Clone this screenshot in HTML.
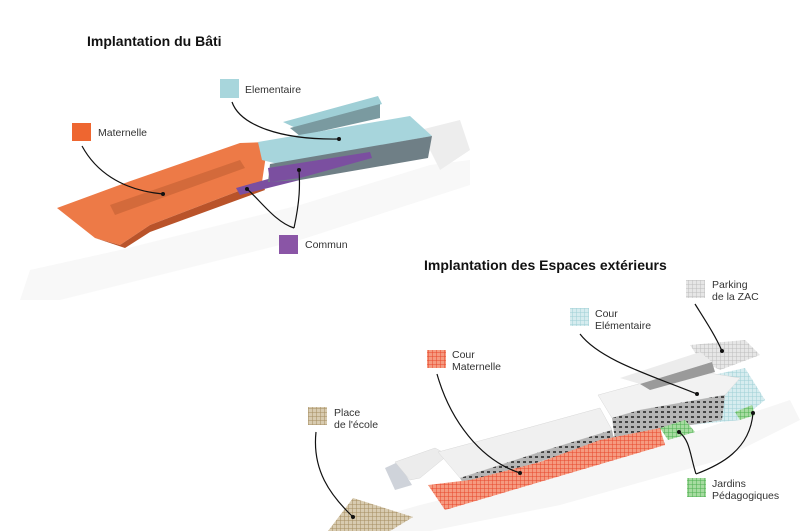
<!DOCTYPE html>
<html><head><meta charset="utf-8"><style>
html,body{margin:0;padding:0;background:#fff}
svg{display:block}
text{font-family:"Liberation Sans",sans-serif}
.l{font-size:10.5px;fill:#333}
.t{font-size:14px;font-weight:bold;fill:#111}
</style></head><body>
<svg width="800" height="531" viewBox="0 0 800 531" xmlns="http://www.w3.org/2000/svg">
<defs>
<pattern id="hr" width="4" height="4" patternUnits="userSpaceOnUse"><rect width="4" height="4" fill="#f59a80"/><path d="M0 0H4M0 0V4" stroke="#e8452a" stroke-width="1"/></pattern>
<pattern id="hb" width="4" height="4" patternUnits="userSpaceOnUse"><rect width="4" height="4" fill="#d8cbb0"/><path d="M0 0H4M0 0V4" stroke="#a58c60" stroke-width="1"/></pattern>
<pattern id="ht" width="4" height="4" patternUnits="userSpaceOnUse"><rect width="4" height="4" fill="#d6ecef"/><path d="M0 0H4M0 0V4" stroke="#9fcfd6" stroke-width="1"/></pattern>
<pattern id="hg" width="4" height="4" patternUnits="userSpaceOnUse"><rect width="4" height="4" fill="#e6e6e6"/><path d="M0 0H4M0 0V4" stroke="#bdbdbd" stroke-width="1"/></pattern>
<pattern id="hj" width="4" height="4" patternUnits="userSpaceOnUse"><rect width="4" height="4" fill="#a6dba0"/><path d="M0 0H4M0 0V4" stroke="#4caf50" stroke-width="1"/></pattern>
<pattern id="win" width="6" height="5" patternUnits="userSpaceOnUse"><rect width="6" height="5" fill="#b5b5b5"/><rect x="1" y="1" width="3" height="2" fill="#444"/></pattern>
</defs>

<text class="t" x="87" y="46">Implantation du Bâti</text>
<text class="t" x="424" y="270">Implantation des Espaces extérieurs</text>

<!-- top site ground -->
<polygon points="30,270 120,250 300,205 430,165 470,160 470,185 300,240 60,300 20,300" fill="#f8f8f8"/>
<polygon points="420,130 460,120 470,150 440,170" fill="#ededed"/>
<!-- Maternelle -->
<polygon points="57,208 125,183 240,143 268,142 262,182 150,225 120,245 95,238" fill="#ed7a47"/>
<polygon points="95,238 120,245 150,225 262,182 265,190 150,232 125,248" fill="#b9532a"/>
<polygon points="110,205 240,160 245,168 115,215" fill="#d36a3b"/>
<polygon points="236,188 300,170 300,180 240,195" fill="#7b4fa0"/>
<!-- Elementaire -->
<polygon points="283,122 378,96 382,104 300,130" fill="#9fcfd6"/>
<polygon points="290,128 380,104 380,118 300,136" fill="#7a9aa0"/>
<polygon points="258,142 410,116 432,136 278,164 262,160" fill="#a7d5dc"/>
<polygon points="270,164 432,136 428,158 300,180 268,182" fill="#6f7f86"/>
<polygon points="268,168 370,152 372,158 300,178 270,182" fill="#7b4fa0"/>

<!-- top labels -->
<rect x="72" y="123" width="19" height="18" fill="#ee6630"/>
<text class="l" x="98" y="136">Maternelle</text>
<rect x="220" y="79" width="19" height="19" fill="#a8d6dc"/>
<text class="l" x="245" y="93">Elementaire</text>
<rect x="279" y="235" width="19" height="19" fill="#8a55a6"/>
<text class="l" x="305" y="248">Commun</text>
<g fill="none" stroke="#111" stroke-width="1.2">
<path d="M82,146 C95,170 120,190 163,194"/>
<path d="M232,102 C240,125 280,140 339,139"/>
<path d="M294,228 C300,200 300,185 299,170"/>
<path d="M294,228 C275,222 260,200 247,189"/>
</g>
<circle cx="163" cy="194" r="2" fill="#111"/><circle cx="339" cy="139" r="2" fill="#111"/>
<circle cx="299" cy="170" r="2" fill="#111"/><circle cx="247" cy="189" r="2" fill="#111"/>

<!-- bottom site -->
<polygon points="330,531 420,505 560,470 700,430 790,400 800,420 720,460 560,505 430,531" fill="#f6f6f6"/>
<polygon points="328,531 353,498 413,517 390,531" fill="url(#hb)"/>
<polygon points="690,345 745,340 760,355 720,370 700,360" fill="url(#hg)"/>
<polygon points="690,380 745,368 765,400 740,420 690,425 680,400" fill="url(#ht)"/>
<!-- shadows -->
<polygon points="385,468 398,462 412,485 395,490" fill="#cfd3da"/>
<!-- left roof wing -->
<polygon points="395,462 435,448 448,455 420,478 410,480" fill="#ececec" stroke="#d8d8d8" stroke-width="0.5"/>
<!-- main roofs -->
<polygon points="438,452 520,430 600,408 612,430 540,452 460,478" fill="#f0f0f0" stroke="#d8d8d8" stroke-width="0.5"/>
<polygon points="598,395 690,370 740,378 725,395 640,410 612,418" fill="#f2f2f2" stroke="#d8d8d8" stroke-width="0.5"/>
<polygon points="620,378 700,352 712,362 640,384" fill="#ececec"/>
<polygon points="640,384 712,362 715,372 650,390" fill="#9a9a9a"/>
<!-- facades -->
<polygon points="460,478 540,452 612,430 614,440 545,460 465,487" fill="url(#win)"/>
<polygon points="612,418 640,410 725,395 722,420 660,430 615,440" fill="url(#win)"/>
<polygon points="428,485 470,480 540,462 600,440 660,428 665,445 445,510" fill="url(#hr)"/>
<polygon points="660,428 685,420 695,432 668,440" fill="url(#hj)"/>
<polygon points="735,412 752,405 755,415 740,420" fill="url(#hj)"/>

<!-- bottom labels -->
<rect x="308" y="407" width="19" height="18" fill="url(#hb)"/>
<text class="l" x="334" y="416">Place</text><text class="l" x="334" y="428">de l'école</text>
<rect x="427" y="350" width="19" height="18" fill="url(#hr)"/>
<text class="l" x="452" y="358">Cour</text><text class="l" x="452" y="370">Maternelle</text>
<rect x="570" y="308" width="19" height="18" fill="url(#ht)"/>
<text class="l" x="595" y="317">Cour</text><text class="l" x="595" y="329">Elémentaire</text>
<rect x="686" y="280" width="19" height="18" fill="url(#hg)"/>
<text class="l" x="712" y="288">Parking</text><text class="l" x="712" y="300">de la ZAC</text>
<rect x="687" y="478" width="19" height="19" fill="url(#hj)"/>
<text class="l" x="712" y="487">Jardins</text><text class="l" x="712" y="499">Pédagogiques</text>
<g fill="none" stroke="#111" stroke-width="1.2">
<path d="M316,432 C312,470 330,495 353,517"/>
<path d="M437,374 C450,420 480,460 520,473"/>
<path d="M580,334 C600,360 650,375 697,394"/>
<path d="M695,304 C705,320 715,335 722,351"/>
<path d="M696,474 C690,455 690,440 679,432"/>
<path d="M696,474 C720,465 750,450 753,413"/>
</g>
<circle cx="353" cy="517" r="2" fill="#111"/><circle cx="520" cy="473" r="2" fill="#111"/>
<circle cx="697" cy="394" r="2" fill="#111"/><circle cx="722" cy="351" r="2" fill="#111"/>
<circle cx="679" cy="432" r="2" fill="#111"/><circle cx="753" cy="413" r="2" fill="#111"/>
</svg>
</body></html>
